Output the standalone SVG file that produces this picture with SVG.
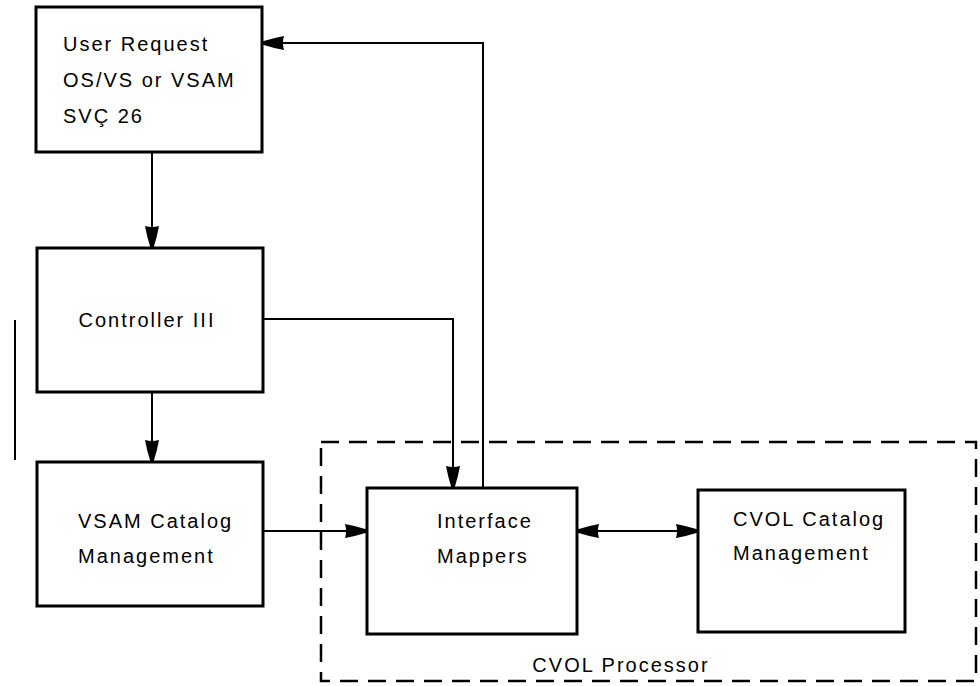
<svg xmlns="http://www.w3.org/2000/svg" width="980" height="686" viewBox="0 0 980 686">
<style>
.box{fill:#fff;stroke:#000;stroke-width:3}
.ln{fill:none;stroke:#000;stroke-width:2}
.dash{fill:none;stroke:#000;stroke-width:2.5;stroke-dasharray:18 10}
text{font-family:"Liberation Sans",Arial,sans-serif;font-size:20px;letter-spacing:2px;fill:#000}
</style>
<defs>
<marker id="ah" viewBox="0 0 22 16" refX="22" refY="8" markerWidth="22" markerHeight="16" markerUnits="userSpaceOnUse" orient="auto-start-reverse">
<path d="M0,1 Q11,3 22,6.5 L22,9.5 Q11,13 0,15 Q2,8 0,1 Z" fill="#000"/>
</marker>
</defs>
<rect width="980" height="686" fill="#fff"/>
<g id="cvol-processor">
<rect class="dash" x="321" y="442" width="655" height="239"/>
<text x="621" y="672" text-anchor="middle">CVOL Processor</text>
</g>
<g id="connectors">
<line class="ln" x1="152" y1="152" x2="152" y2="248" marker-end="url(#ah)"/>
<line class="ln" x1="152" y1="392" x2="152" y2="462" marker-end="url(#ah)"/>
<polyline class="ln" points="263,319 453,319 453,488" marker-end="url(#ah)"/>
<polyline class="ln" points="483,488 483,43 262,43" marker-end="url(#ah)"/>
<line class="ln" x1="263" y1="531" x2="367" y2="531" marker-end="url(#ah)"/>
<line class="ln" x1="577" y1="531" x2="698" y2="531" marker-start="url(#ah)" marker-end="url(#ah)"/>
<line class="ln" x1="15" y1="320" x2="15" y2="460"/>
</g>
<g id="user-request">
<rect class="box" x="36" y="7" width="226" height="145"/>
<text x="63" y="51">User Request</text>
<text x="63" y="87">OS/VS or VSAM</text>
<text x="63" y="123">SVÇ 26</text>
</g>
<g id="controller">
<rect class="box" x="37" y="248" width="226" height="144"/>
<text x="147" y="327" text-anchor="middle">Controller III</text>
</g>
<g id="vsam-catalog">
<rect class="box" x="37" y="462" width="226" height="144"/>
<text x="78" y="528">VSAM Catalog</text>
<text x="78" y="563">Management</text>
</g>
<g id="interface-mappers">
<rect class="box" x="367" y="488" width="210" height="146"/>
<text x="437" y="528">Interface</text>
<text x="437" y="563">Mappers</text>
</g>
<g id="cvol-catalog">
<rect class="box" x="698" y="490" width="207" height="142"/>
<text x="733" y="526">CVOL Catalog</text>
<text x="733" y="560">Management</text>
</g>
</svg>
